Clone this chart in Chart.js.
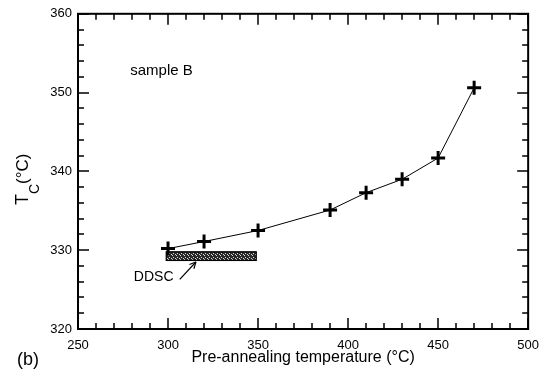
<!DOCTYPE html>
<html>
<head>
<meta charset="utf-8">
<script src="https://cdn.jsdelivr.net/npm/chart.js@4"></script>
<style>
  html, body { margin: 0; padding: 0; background: #fff; }
  #wrap { width: 548px; height: 373px; }
</style>
</head>
<body>
<div id="wrap"><canvas id="tcChart" width="548" height="373"></canvas></div>
<script>
const preAnnealTemp = [300, 320, 350, 390, 410, 430, 450, 470];
const tcValues = [330.2, 331.1, 332.5, 335.1, 337.3, 339.0, 341.7, 350.6];
const xTickLabels = [250, 300, 350, 400, 450, 500];
const yTickLabels = [320, 330, 340, 350, 360];
const ddscTempRange = [299, 349];
const ddscTcRange = [328.7, 329.8];

const FONT = "Arial, 'Liberation Sans', sans-serif";

// speckled fill for the DDSC bar
function speckle(ctx) {
  const c = document.createElement("canvas");
  c.width = 4; c.height = 4;
  const p = c.getContext("2d");
  p.fillStyle = "#2a2a2a";
  p.fillRect(0, 0, 4, 4);
  p.fillStyle = "#d8d8d8";
  p.fillRect(1, 1, 1, 1);
  p.fillRect(3, 2, 1, 1);
  p.fillRect(0, 3, 1, 1);
  return ctx.createPattern(c, "repeat");
}

// inward ticks on all four sides + box frame
const frameTicks = {
  id: "frameTicks",
  afterDraw(chart) {
    const { ctx, chartArea: a, scales: { x, y } } = chart;
    ctx.save();
    ctx.strokeStyle = "#000";
    ctx.lineWidth = 1.5;
    ctx.beginPath();
    for (let v = x.min; v <= x.max; v += 10) {
      const px = Math.round(x.getPixelForValue(v));
      const len = v % 50 === 0 ? 11 : 6;
      ctx.moveTo(px, a.bottom); ctx.lineTo(px, a.bottom - len);
      ctx.moveTo(px, a.top); ctx.lineTo(px, a.top + len);
    }
    for (let v = y.min; v <= y.max; v += 2) {
      const py = Math.round(y.getPixelForValue(v));
      const len = v % 10 === 0 ? 11 : 6;
      ctx.moveTo(a.left, py); ctx.lineTo(a.left + len, py);
      ctx.moveTo(a.right, py); ctx.lineTo(a.right - len, py);
    }
    ctx.stroke();
    ctx.lineWidth = 2;
    ctx.strokeRect(a.left, a.top, a.right - a.left, a.bottom - a.top);
    ctx.restore();
  },
};

// labels, DDSC bar, arrow
const annotations = {
  id: "annotations",
  beforeDatasetsDraw(chart) {
    const { ctx, scales: { x, y } } = chart;
    const x0 = x.getPixelForValue(ddscTempRange[0]);
    const x1 = x.getPixelForValue(ddscTempRange[1]);
    const y0 = y.getPixelForValue(ddscTcRange[1]);
    const y1 = y.getPixelForValue(ddscTcRange[0]);
    ctx.save();
    ctx.fillStyle = speckle(ctx);
    ctx.fillRect(x0, y0, x1 - x0, y1 - y0);
    ctx.strokeStyle = "#000";
    ctx.lineWidth = 1.2;
    ctx.strokeRect(x0, y0, x1 - x0, y1 - y0);
    ctx.restore();
  },
  afterDraw(chart) {
    const { ctx, chartArea: a, scales: { x, y } } = chart;
    ctx.save();
    ctx.fillStyle = "#000";
    ctx.textBaseline = "middle";

    ctx.font = "15px " + FONT;
    ctx.textAlign = "left";
    ctx.fillText("sample B", x.getPixelForValue(279), y.getPixelForValue(352.8));

    ctx.font = "14px " + FONT;
    ctx.fillText("DDSC", x.getPixelForValue(281), y.getPixelForValue(326.6));

    // arrow to the DDSC bar
    const ax0 = x.getPixelForValue(306.5), ay0 = y.getPixelForValue(326.3);
    const ax1 = x.getPixelForValue(315.5), ay1 = y.getPixelForValue(328.5);
    ctx.strokeStyle = "#000";
    ctx.lineWidth = 1.2;
    ctx.beginPath(); ctx.moveTo(ax0, ay0); ctx.lineTo(ax1, ay1); ctx.stroke();
    const ang = Math.atan2(ay1 - ay0, ax1 - ax0);
    ctx.beginPath();
    ctx.moveTo(ax1, ay1);
    ctx.lineTo(ax1 - 7 * Math.cos(ang - 0.45), ay1 - 7 * Math.sin(ang - 0.45));
    ctx.moveTo(ax1, ay1);
    ctx.lineTo(ax1 - 7 * Math.cos(ang + 0.45), ay1 - 7 * Math.sin(ang + 0.45));
    ctx.stroke();

    // x title
    ctx.font = "16px " + FONT;
    ctx.textAlign = "center";
    ctx.fillText("Pre-annealing temperature (°C)", (a.left + a.right) / 2, 358);

    ctx.font = "18px " + FONT;
    ctx.textAlign = "left";
    ctx.fillText("(b)", 17, 360);

    // y title with subscript
    ctx.translate(28, 205);
    ctx.rotate(-Math.PI / 2);
    ctx.textBaseline = "alphabetic";
    ctx.font = "18px " + FONT;
    ctx.fillText("T", 0, 0);
    let off = ctx.measureText("T").width;
    ctx.font = "14px " + FONT;
    ctx.fillText("C", off, 11);
    off += ctx.measureText("C").width;
    ctx.font = "17px " + FONT;
    ctx.fillText("(°C)", off, 0);
    ctx.restore();
  },
};

new Chart(document.getElementById("tcChart"), {
  type: "scatter",
  data: {
    datasets: [{
      data: preAnnealTemp.map((t, i) => ({ x: t, y: tcValues[i] })),
      showLine: true,
      borderColor: "#000",
      borderWidth: 1,
      tension: 0,
      pointStyle: "cross",
      pointRadius: 7,
      pointBorderWidth: 3,
      pointBorderColor: "#000",
      pointBackgroundColor: "#000",
    }],
  },
  options: {
    responsive: false,
    animation: false,
    layout: { padding: { top: 13, right: 18, left: 0, bottom: 0 } },
    plugins: { legend: { display: false }, tooltip: { enabled: false } },
    scales: {
      x: {
        type: "linear",
        min: 250, max: 500,
        afterFit: s => { s.height = 44; },
        afterBuildTicks: s => { s.ticks = xTickLabels.map(v => ({ value: v })); },
        grid: { display: false, drawTicks: false },
        border: { display: false },
        ticks: { color: "#000", padding: 9, font: { size: 13, family: FONT } },
      },
      y: {
        min: 320, max: 360,
        afterFit: s => { s.width = 78; },
        afterBuildTicks: s => { s.ticks = yTickLabels.map(v => ({ value: v })); },
        grid: { display: false, drawTicks: false },
        border: { display: false },
        ticks: { color: "#000", padding: 6, font: { size: 13, family: FONT } },
      },
    },
  },
  plugins: [frameTicks, annotations],
});
</script>
</body>
</html>
